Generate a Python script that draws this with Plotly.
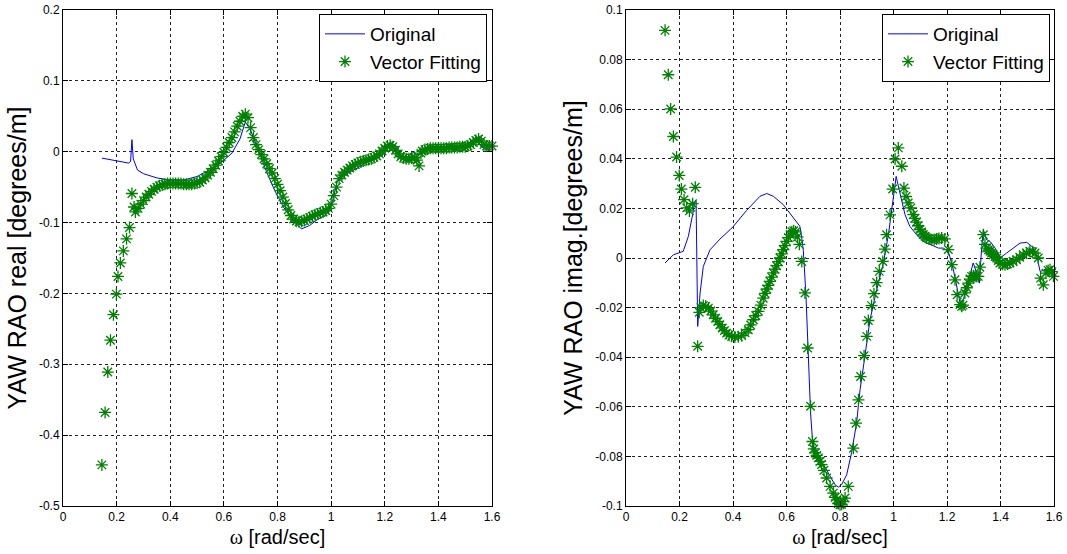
import plotly.graph_objects as go

# ---------------- data: left panel (real part) ----------------
real_orig_w = [0.145, 0.20, 0.244, 0.252, 0.257, 0.262, 0.278, 0.30, 0.35, 0.40, 0.45, 0.50,
               0.537, 0.57, 0.60, 0.63, 0.66, 0.68, 0.70, 0.73, 0.761, 0.79, 0.822, 0.86,
               0.889, 0.92, 0.948, 0.975, 0.992, 1.005, 1.023, 1.05, 1.085, 1.13, 1.172,
               1.20, 1.222, 1.24, 1.26, 1.285, 1.30, 1.31, 1.322, 1.34, 1.36, 1.42, 1.484,
               1.52, 1.54, 1.56, 1.597]
real_orig_v = [-0.009, -0.013, -0.016, -0.014, 0.017, -0.010, -0.026, -0.031, -0.037, -0.040,
               -0.040, -0.035, -0.028, -0.021, -0.012, -0.002, 0.018, 0.042, 0.030, 0.000,
               -0.030, -0.055, -0.078, -0.098, -0.109, -0.104, -0.096, -0.090, -0.085, -0.070,
               -0.042, -0.033, -0.026, -0.016, -0.009, -0.002, 0.012, 0.008, -0.007, -0.007,
               -0.003, 0.000, -0.007, 0.003, 0.007, 0.007, 0.007, 0.013, 0.021, 0.007, 0.000]

real_vf_w = [0.145, 0.157, 0.167, 0.177, 0.188, 0.199, 0.205, 0.214, 0.225, 0.237, 0.248,
             0.257, 0.265, 0.27, 0.28, 0.29, 0.30, 0.31, 0.32, 0.33, 0.34, 0.35, 0.36, 0.37,
             0.38, 0.39, 0.40, 0.41, 0.42, 0.43, 0.44, 0.45, 0.46, 0.47, 0.48, 0.49, 0.50,
             0.51, 0.52, 0.53, 0.54, 0.55, 0.56, 0.57, 0.58, 0.59, 0.60, 0.61, 0.62, 0.63,
             0.64, 0.65, 0.66, 0.67, 0.68, 0.69, 0.70, 0.71, 0.72, 0.73, 0.74, 0.75, 0.76,
             0.77, 0.78, 0.79, 0.80, 0.81, 0.82, 0.83, 0.84, 0.85, 0.86, 0.87, 0.88, 0.89,
             0.90, 0.91, 0.92, 0.93, 0.94, 0.95, 0.96, 0.97, 0.98, 0.99, 1.00, 1.01, 1.02,
             1.03, 1.04, 1.05, 1.06, 1.07, 1.08, 1.09, 1.10, 1.11, 1.12, 1.13, 1.14, 1.15,
             1.16, 1.17, 1.18, 1.19, 1.20, 1.21, 1.22, 1.23, 1.24, 1.25, 1.26, 1.27, 1.28,
             1.29, 1.30, 1.31, 1.32, 1.328, 1.335, 1.34, 1.35, 1.36, 1.37, 1.38, 1.39, 1.40,
             1.41, 1.42, 1.43, 1.44, 1.45, 1.46, 1.47, 1.48, 1.49, 1.50, 1.51, 1.52, 1.53,
             1.54, 1.55, 1.56, 1.57, 1.58, 1.59, 1.60]
real_vf_v = [-0.442, -0.368, -0.311, -0.266, -0.230, -0.201, -0.176, -0.157, -0.140, -0.123,
             -0.107, -0.059, -0.078, -0.085, -0.080, -0.074, -0.069, -0.064, -0.060, -0.056,
             -0.053, -0.050, -0.048, -0.047, -0.046, -0.045, -0.045, -0.045, -0.045, -0.045,
             -0.045, -0.046, -0.046, -0.046, -0.046, -0.045, -0.044, -0.043, -0.040, -0.037,
             -0.033, -0.029, -0.024, -0.019, -0.013, -0.007, -0.001, 0.006, 0.013, 0.020,
             0.028, 0.036, 0.043, 0.050, 0.053, 0.048, 0.034, 0.020, 0.010, 0.003, -0.004,
             -0.010, -0.017, -0.024, -0.030, -0.038, -0.046, -0.055, -0.064, -0.073, -0.082,
             -0.090, -0.095, -0.098, -0.099, -0.098, -0.097, -0.095, -0.093, -0.091, -0.089,
             -0.088, -0.086, -0.085, -0.083, -0.080, -0.074, -0.062, -0.050, -0.038, -0.033,
             -0.029, -0.026, -0.023, -0.020, -0.018, -0.016, -0.014, -0.013, -0.012, -0.011,
             -0.010, -0.008, -0.006, -0.003, 0.001, 0.005, 0.008, 0.009, 0.007, 0.002, -0.003,
             -0.007, -0.009, -0.010, -0.010, -0.009, -0.008, -0.012, -0.020, -0.002, 0.001,
             0.003, 0.004, 0.005, 0.005, 0.005, 0.005, 0.005, 0.005, 0.005, 0.006, 0.006,
             0.006, 0.006, 0.007, 0.007, 0.007, 0.008, 0.010, 0.013, 0.016, 0.018, 0.015,
             0.010, 0.008, 0.008, 0.008, 0.007]

# ---------------- data: right panel (imaginary part) ----------------
imag_orig_w = [0.146, 0.177, 0.214, 0.233, 0.249, 0.258, 0.262, 0.268, 0.277, 0.289, 0.314,
               0.351, 0.389, 0.401, 0.451, 0.501, 0.526, 0.551, 0.588, 0.625, 0.65, 0.657,
               0.663, 0.673, 0.682, 0.690, 0.698, 0.713, 0.738, 0.763, 0.781, 0.794, 0.806,
               0.825, 0.843, 0.862, 0.875, 0.893, 0.912, 0.937, 0.962, 0.981, 0.997, 1.010,
               1.024, 1.043, 1.061, 1.086, 1.111, 1.143, 1.168, 1.186, 1.205, 1.224, 1.236,
               1.249, 1.261, 1.274, 1.286, 1.298, 1.311, 1.321, 1.330, 1.336, 1.348, 1.361,
               1.380, 1.398, 1.423, 1.448, 1.473, 1.498, 1.517, 1.535, 1.548, 1.573, 1.598]
imag_orig_v = [-0.002, 0.0013, 0.0027, 0.0087, 0.0175, 0.0228, 0.0230, -0.0276, -0.0141,
               -0.0034, 0.0033, 0.0076, 0.0114, 0.0127, 0.0192, 0.0249, 0.0260, 0.0249,
               0.0215, 0.0161, 0.0128, 0.0081, 0.0030, -0.0155, -0.0424, -0.0625, -0.0746,
               -0.0800, -0.0833, -0.0880, -0.0914, -0.0924, -0.0914, -0.0874, -0.0786,
               -0.0666, -0.0531, -0.0397, -0.0250, -0.0128, -0.0021, 0.0094, 0.0235, 0.0329,
               0.0262, 0.0175, 0.0128, 0.0094, 0.0067, 0.0050, 0.0040, 0.0040, 0.0027,
               -0.0048, -0.0114, -0.0181, -0.0168, -0.0114, -0.0060, -0.0020, -0.0060,
               -0.0101, 0.0047, 0.0114, 0.0074, 0.0067, 0.0040, 0.0000, 0.0020, 0.0040,
               0.0060, 0.0063, 0.0047, 0.0013, -0.0054, -0.0047, -0.0067]

imag_vf_w = [0.146, 0.158, 0.167, 0.177, 0.189, 0.199, 0.207, 0.217, 0.227, 0.237, 0.249,
             0.259, 0.268, 0.274, 0.280, 0.289, 0.298, 0.308, 0.317, 0.326, 0.335, 0.343,
             0.351, 0.360, 0.368, 0.376, 0.385, 0.395, 0.407, 0.420, 0.432, 0.445, 0.457,
             0.466, 0.476, 0.485, 0.495, 0.504, 0.513, 0.520, 0.526, 0.532, 0.538, 0.545,
             0.551, 0.557, 0.563, 0.570, 0.576, 0.582, 0.588, 0.594, 0.600, 0.607, 0.614,
             0.620, 0.627, 0.634, 0.641, 0.648, 0.657, 0.669, 0.679, 0.690, 0.697, 0.702,
             0.707, 0.713, 0.719, 0.725, 0.731, 0.740, 0.750, 0.763, 0.775, 0.782, 0.788,
             0.794, 0.800, 0.806, 0.812, 0.819, 0.831, 0.850, 0.860, 0.869, 0.877, 0.890,
             0.900, 0.906, 0.918, 0.927, 0.937, 0.947, 0.960, 0.968, 0.974, 0.987, 0.997,
             1.006, 1.018, 1.031, 1.039, 1.047, 1.055, 1.065, 1.074, 1.080, 1.086, 1.092,
             1.099, 1.105, 1.111, 1.118, 1.124, 1.133, 1.143, 1.152, 1.161, 1.170, 1.180,
             1.192, 1.205, 1.218, 1.230, 1.238, 1.249, 1.255, 1.260, 1.267, 1.274, 1.280,
             1.286, 1.292, 1.299, 1.305, 1.311, 1.317, 1.323, 1.336, 1.342, 1.348, 1.355,
             1.361, 1.367, 1.373, 1.380, 1.386, 1.392, 1.398, 1.408, 1.417, 1.426, 1.435,
             1.447, 1.460, 1.472, 1.485, 1.497, 1.510, 1.520, 1.529, 1.541, 1.550, 1.560,
             1.570, 1.578, 1.585, 1.592, 1.598]
imag_vf_v = [0.0918, 0.0739, 0.0601, 0.0490, 0.0407, 0.0333, 0.0278, 0.0235, 0.0202, 0.0190,
             0.0219, 0.0285, -0.0356, -0.0219, -0.0200, -0.0192, -0.0195, -0.0202, -0.0214,
             -0.0229, -0.0243, -0.0256, -0.0269, -0.0282, -0.0293, -0.0303, -0.0311, -0.0316,
             -0.0319, -0.0318, -0.0313, -0.0302, -0.0289, -0.0270, -0.0249, -0.0232, -0.0215,
             -0.0190, -0.0162, -0.0143, -0.0125, -0.0110, -0.0094, -0.0077, -0.0060, -0.0045,
             -0.0031, -0.0015, 0.0000, 0.0017, 0.0034, 0.0050, 0.0067, 0.0082, 0.0095, 0.0106,
             0.0110, 0.0105, 0.0085, 0.0055, -0.0014, -0.0141, -0.0363, -0.0598, -0.0740,
             -0.0770, -0.0786, -0.0796, -0.0806, -0.0820, -0.0833, -0.0856, -0.0887, -0.0921,
             -0.0948, -0.0965, -0.0975, -0.0990, -0.0995, -0.0993, -0.0982, -0.0968, -0.0921,
             -0.0767, -0.0666, -0.0572, -0.0478, -0.0394, -0.0316, -0.0252, -0.0192, -0.0144,
             -0.0099, -0.0054, -0.0014, 0.0036, 0.0094, 0.0174, 0.0278, 0.0399, 0.0444, 0.0370,
             0.0282, 0.0248, 0.0222, 0.0202, 0.0175, 0.0160, 0.0145, 0.0130, 0.0115, 0.0105,
             0.0095, 0.0088, 0.0081, 0.0077, 0.0074, 0.0075, 0.0077, 0.0079, 0.0081, 0.0077,
             0.0034, -0.0027, -0.0088, -0.0148, -0.0188, -0.0195, -0.0190, -0.0141, -0.0120,
             -0.0101, -0.0085, -0.0074, -0.0072, -0.0074, -0.0074, -0.0074, -0.0037, 0.0094,
             0.0055, 0.0040, 0.0033, 0.0027, 0.0020, 0.0013, 0.0006, 0.0000, -0.0010, -0.0020,
             -0.0025, -0.0027, -0.0024, -0.0020, -0.0014, -0.0007, 0.0003, 0.0013, 0.0020,
             0.0027, 0.0025, 0.0020, 0.0000, -0.0081, -0.0108, -0.0061, -0.0050, -0.0047,
             -0.0055, -0.0074]

# ---------------- ticks ----------------
x_ticks = [0, 0.2, 0.4, 0.6, 0.8, 1.0, 1.2, 1.4, 1.6]
x_ticktext = ["0", "0.2", "0.4", "0.6", "0.8", "1", "1.2", "1.4", "1.6"]
real_ticks = [-0.5, -0.4, -0.3, -0.2, -0.1, 0, 0.1, 0.2]
real_ticktext = ["-0.5", "-0.4", "-0.3", "-0.2", "-0.1", "0", "0.1", "0.2"]
imag_ticks = [-0.1, -0.08, -0.06, -0.04, -0.02, 0, 0.02, 0.04, 0.06, 0.08, 0.1]
imag_ticktext = ["-0.1", "-0.08", "-0.06", "-0.04", "-0.02", "0", "0.02", "0.04", "0.06", "0.08", "0.1"]

BLUE = "#0000FF"
GREEN = "#008000"
FONT = "Liberation Sans, Arial, sans-serif"

fig = go.Figure()

fig.add_trace(go.Scatter(x=real_orig_w, y=real_orig_v, mode="lines", name="Original",
                         line=dict(color=BLUE, width=1), xaxis="x", yaxis="y", legend="legend"))
fig.add_trace(go.Scatter(x=real_vf_w, y=real_vf_v, mode="markers", name="Vector Fitting",
                         marker=dict(symbol="asterisk-open", size=10, color=GREEN,
                                     line=dict(color=GREEN, width=1.3)),
                         xaxis="x", yaxis="y", legend="legend", cliponaxis=False))
fig.add_trace(go.Scatter(x=imag_orig_w, y=imag_orig_v, mode="lines", name="Original",
                         line=dict(color=BLUE, width=1), xaxis="x2", yaxis="y2", legend="legend2"))
fig.add_trace(go.Scatter(x=imag_vf_w, y=imag_vf_v, mode="markers", name="Vector Fitting",
                         marker=dict(symbol="asterisk-open", size=10, color=GREEN,
                                     line=dict(color=GREEN, width=1.3)),
                         xaxis="x2", yaxis="y2", legend="legend2", cliponaxis=False))

W, H = 1067, 554
ytop = 1 - 10 / H
ybot = 1 - 506 / H

axis_common = dict(showline=True, linecolor="black", linewidth=1, mirror="ticks",
                   ticks="inside", ticklen=5, tickcolor="black", tickwidth=1,
                   showgrid=True, gridcolor="#222222", griddash="dot", gridwidth=1,
                   zeroline=False, automargin=False, ticklabeloverflow="allow",
                   tickfont=dict(family=FONT, size=12, color="black"))

xtitle = dict(text='<span style="font-family:Liberation Serif, serif">ω</span> [rad/sec]',
              font=dict(family=FONT, size=20, color="black"), standoff=6)

fig.update_layout(
    width=W, height=H,
    margin=dict(l=0, r=0, t=0, b=0, autoexpand=False),
    paper_bgcolor="white", plot_bgcolor="white",
    showlegend=True,
    xaxis=dict(domain=[63 / W, 492 / W], range=[0, 1.6], tickvals=x_ticks,
               ticktext=x_ticktext, anchor="y", title=xtitle, **axis_common),
    yaxis=dict(domain=[ybot, ytop], range=[-0.5, 0.2], tickvals=real_ticks,
               ticktext=real_ticktext, anchor="x",
               title=dict(text="YAW RAO real [degrees/m]",
                          font=dict(family=FONT, size=25, color="black"), standoff=5),
               **axis_common),
    xaxis2=dict(domain=[626 / W, 1054 / W], range=[0, 1.6], tickvals=x_ticks,
                ticktext=x_ticktext, anchor="y2", title=xtitle, **axis_common),
    yaxis2=dict(domain=[ybot, ytop], range=[-0.1, 0.1], tickvals=imag_ticks,
                ticktext=imag_ticktext, anchor="x2",
                title=dict(text="YAW RAO imag.[degrees/m]",
                           font=dict(family=FONT, size=25, color="black"), standoff=5),
                **axis_common),
    legend=dict(x=487 / W, y=1 - 14 / H, xanchor="right", yanchor="top",
                bgcolor="white", bordercolor="black", borderwidth=1, itemwidth=40,
                font=dict(family=FONT, size=19, color="black"), tracegroupgap=0),
    legend2=dict(x=1050 / W, y=1 - 14 / H, xanchor="right", yanchor="top",
                 bgcolor="white", bordercolor="black", borderwidth=1, itemwidth=40,
                 font=dict(family=FONT, size=19, color="black"), tracegroupgap=0),
)

# remove the default 8 px page margin so the figure fills the window exactly
fig.write_html("out.html", config={"displayModeBar": False},
               post_script="document.body.style.margin='0px';")
